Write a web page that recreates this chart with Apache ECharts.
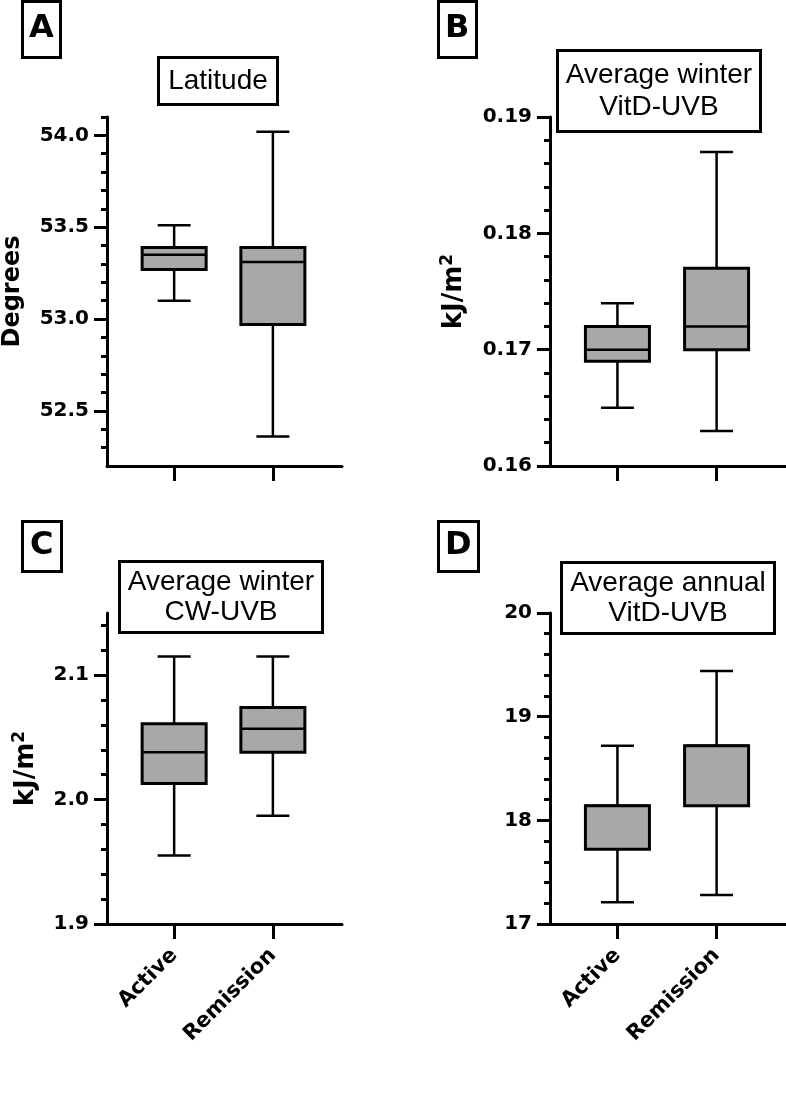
<!DOCTYPE html>
<html>
<head>
<meta charset="utf-8">
<script src="https://cdn.jsdelivr.net/npm/echarts@6/dist/echarts.min.js"></script>
<style>
  html, body { margin: 0; padding: 0; background: #fff; }
  #chart { width: 786px; height: 1105px; }
</style>
</head>
<body>
<div id="chart"></div>
<script>
// groups on the x axis
const categories = ['Active', 'Remission']

// box values per group: [min, Q1, median, Q3, max]
const latitude = [
  [53.10, 53.27, 53.35, 53.39, 53.51],
  [52.36, 52.97, 53.31, 53.39, 54.02]
]
const winterVitD = [
  [0.165, 0.169, 0.170, 0.172, 0.174],
  [0.163, 0.170, 0.172, 0.177, 0.187]
]
const winterCW = [
  [1.955, 2.013, 2.038, 2.061, 2.115],
  [1.987, 2.038, 2.057, 2.074, 2.115]
]
const annualVitD = [
  [17.21, 17.72, 18.14, 18.14, 18.72],
  [17.28, 18.14, 18.72, 18.72, 19.44]
]

// y tick labels (major) and minor ticks
const latTicks = [52.5, 53.0, 53.5, 54.0]
const latMinor = [52.3, 52.4, 52.6, 52.7, 52.8, 52.9, 53.1, 53.2, 53.3, 53.4, 53.6, 53.7, 53.8, 53.9, 54.1]
const vitdTicks = [0.16, 0.17, 0.18, 0.19]
const vitdMinor = [0.162, 0.164, 0.166, 0.168, 0.172, 0.174, 0.176, 0.178, 0.182, 0.184, 0.186, 0.188]
const cwTicks = [1.9, 2.0, 2.1]
const cwMinor = [1.92, 1.94, 1.96, 1.98, 2.02, 2.04, 2.06, 2.08, 2.12, 2.14]
const annualTicks = [17, 18, 19, 20]
const annualMinor = [17.2, 17.4, 17.6, 17.8, 18.2, 18.4, 18.6, 18.8, 19.2, 19.4, 19.6, 19.8]

const BOLD = 'DejaVu Sans'
const PLAIN = 'Liberation Sans'
const HALF = 32   // half box width, px
const CAP = 16.5  // half whisker cap width, px

const panels = [
  { letter: 'A', title: 'Latitude', data: latitude, ticks: latTicks, minor: latMinor,
    min: 52.2, max: 54.1, digits: 1, name: 'Degrees', nameGap: 82, showX: false,
    grid: { left: 107, top: 117, width: 235, height: 349 },
    letterBox: { left: 22, top: 1, padding: [9, 7, 10, 7] },
    titleBox: { left: 208, top: 57, padding: [8, 10, 8, 10], lineHeight: 32 } },
  { letter: 'B', title: 'Average winter\nVitD-UVB', data: winterVitD, ticks: vitdTicks, minor: vitdMinor,
    min: 0.16, max: 0.19, digits: 2, name: 'kJ/m2', nameGap: 81, showX: false,
    grid: { left: 550, top: 117, width: 236, height: 349 },
    letterBox: { left: 438, top: 1, padding: [9, 7, 10, 7] },
    titleBox: { left: 650, top: 50, padding: [9, 9, 9, 9], lineHeight: 32 } },
  { letter: 'C', title: 'Average winter\nCW-UVB', data: winterCW, ticks: cwTicks, minor: cwMinor,
    min: 1.9, max: 2.15, digits: 1, name: 'kJ/m2', nameGap: 66, showX: true,
    grid: { left: 107, top: 613, width: 235, height: 311 },
    letterBox: { left: 22, top: 521, padding: [6, 8, 7, 8] },
    titleBox: { left: 212, top: 561, padding: [6, 9, 6, 9], lineHeight: 30 } },
  { letter: 'D', title: 'Average annual\nVitD-UVB', data: annualVitD, ticks: annualTicks, minor: annualMinor,
    min: 17, max: 20, digits: 0, name: '', nameGap: 0, showX: true,
    grid: { left: 550, top: 613, width: 236, height: 311 },
    letterBox: { left: 438, top: 521, padding: [6, 7, 7, 7] },
    titleBox: { left: 659, top: 562, padding: [6, 9, 6, 9], lineHeight: 30 } }
]

function renderBox(params, api) {
  const x = api.value(0)
  const pMin = api.coord([x, api.value(1)])
  const pQ1 = api.coord([x, api.value(2)])
  const pMed = api.coord([x, api.value(3)])
  const pQ3 = api.coord([x, api.value(4)])
  const pMax = api.coord([x, api.value(5)])
  const cx = pMin[0]
  const seg = (x1, y1, x2, y2, w) => ({
    type: 'line', shape: { x1: x1, y1: y1, x2: x2, y2: y2 },
    style: { stroke: '#000', lineWidth: w }
  })
  return {
    type: 'group',
    children: [
      seg(cx, pMax[1], cx, pQ3[1], 2.5),
      seg(cx, pQ1[1], cx, pMin[1], 2.5),
      seg(cx - CAP, pMax[1], cx + CAP, pMax[1], 2.5),
      seg(cx - CAP, pMin[1], cx + CAP, pMin[1], 2.5),
      {
        type: 'rect',
        shape: { x: cx - HALF, y: pQ3[1], width: HALF * 2, height: pQ1[1] - pQ3[1] },
        style: { fill: '#a8a8a8', stroke: '#000', lineWidth: 3 }
      },
      seg(cx - HALF, pMed[1], cx + HALF, pMed[1], 2.5)
    ]
  }
}

const grid = []
const xAxis = []
const yAxis = []
const series = []
const title = []

panels.forEach(function (p, i) {
  grid.push(Object.assign({ outerBoundsMode: 'none', containLabel: false }, p.grid))

  xAxis.push({
    type: 'value', gridIndex: i, min: -0.68, max: 1.7,
    splitLine: { show: false },
    axisLine: { show: true, onZero: false, lineStyle: { color: '#000', width: 3 } },
    axisTick: { show: true, length: 15, lineStyle: { color: '#000', width: 3 }, customValues: [0, 1] },
    axisLabel: {
      show: p.showX, customValues: [0, 1], rotate: 45, margin: 28,
      color: '#000', fontFamily: BOLD, fontWeight: 'bold', fontSize: 21,
      formatter: function (v) { return categories[Math.round(v)] }
    }
  })

  // major ticks + labels
  yAxis.push({
    type: 'value', gridIndex: i, position: 'left', min: p.min, max: p.max,
    splitLine: { show: false },
    axisLine: { show: true, onZero: false, lineStyle: { color: '#000', width: 3 } },
    axisTick: { show: true, length: 13, lineStyle: { color: '#000', width: 3 }, customValues: p.ticks },
    axisLabel: {
      customValues: p.ticks, margin: 18, color: '#000',
      fontFamily: BOLD, fontWeight: 'bold', fontSize: 20,
      formatter: function (v) { return v.toFixed(p.digits) }
    },
    name: p.name === 'kJ/m2' ? '{a|kJ/m}{s|2}' : p.name,
    nameLocation: 'middle', nameGap: p.nameGap, nameRotate: 90,
    nameTextStyle: {
      color: '#000', fontFamily: BOLD, fontWeight: 'bold', fontSize: 24,
      rich: {
        a: { color: '#000', fontFamily: BOLD, fontWeight: 'bold', fontSize: 26, lineHeight: 30 },
        s: { color: '#000', fontFamily: BOLD, fontWeight: 'bold', fontSize: 17, verticalAlign: 'top' }
      }
    }
  })

  series.push({
    type: 'custom', xAxisIndex: i, yAxisIndex: i,
    renderItem: renderBox,
    encode: { x: 0, y: [1, 2, 3, 4, 5] },
    data: p.data.map(function (d, k) { return [k].concat(d) }),
    silent: true
  })

  title.push({
    text: p.letter, left: p.letterBox.left, top: p.letterBox.top,
    textAlign: 'left', textVerticalAlign: 'top',
    padding: p.letterBox.padding, borderWidth: 3, borderColor: '#000',
    textStyle: { color: '#000', fontFamily: BOLD, fontWeight: 'bold', fontSize: 32, lineHeight: 38 }
  })
  title.push({
    text: p.title, left: p.titleBox.left, top: p.titleBox.top,
    textAlign: 'center', textVerticalAlign: 'top',
    padding: p.titleBox.padding, borderWidth: 3, borderColor: '#000',
    textStyle: { color: '#000', fontFamily: PLAIN, fontWeight: 'normal', fontSize: 28, lineHeight: p.titleBox.lineHeight }
  })
})

// minor ticks sit on a second, bare y axis in each panel
panels.forEach(function (p, i) {
  yAxis.push({
    type: 'value', gridIndex: i, position: 'left', min: p.min, max: p.max,
    splitLine: { show: false },
    axisLine: { show: false, onZero: false },
    axisLabel: { show: false },
    axisTick: { show: true, length: 6, lineStyle: { color: '#000', width: 3 }, customValues: p.minor }
  })
})

const chart = echarts.init(document.getElementById('chart'), null, { renderer: 'canvas' })
chart.setOption({
  animation: false,
  backgroundColor: '#fff',
  title: title,
  grid: grid,
  xAxis: xAxis,
  yAxis: yAxis,
  series: series
})
</script>
</body>
</html>
